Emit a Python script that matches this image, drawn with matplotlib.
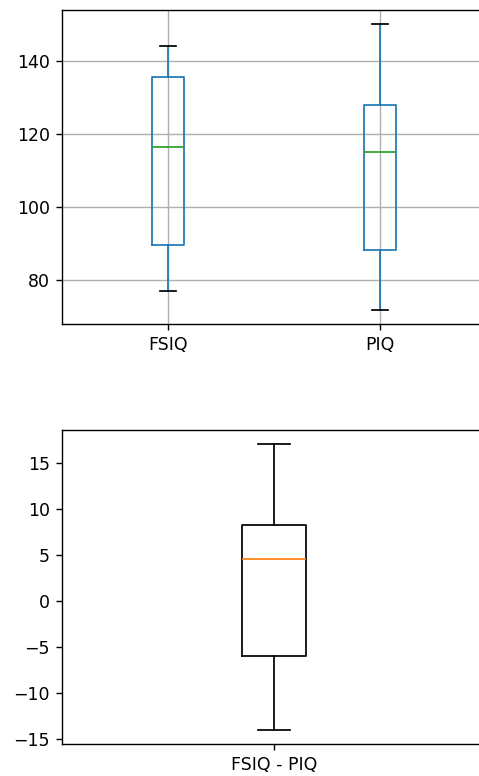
import pandas as pd
import matplotlib
matplotlib.use('Agg')
import matplotlib.pyplot as plt
from matplotlib.ticker import MultipleLocator

# brain size data: FSIQ and PIQ for the 40 subjects
fsiq = [133, 140, 139, 133, 137, 99, 138, 92, 89, 133,
        132, 141, 135, 140, 96, 83, 132, 100, 101, 80,
        83, 97, 135, 139, 91, 141, 85, 103, 77, 130,
        133, 144, 103, 90, 83, 133, 140, 88, 81, 89]
piq = [124, 124, 150, 128, 134, 110, 131, 98, 84, 147,
       124, 128, 124, 147, 90, 96, 120, 102, 84, 86,
       86, 84, 134, 128, 102, 131, 84, 110, 72, 124,
       132, 137, 110, 86, 81, 128, 124, 94, 74, 89]
diff_label = 'FSIQ - PIQ'

data = pd.DataFrame({'FSIQ': fsiq, 'PIQ': piq})

# the picture looks like a 1.25x render, so draw at 125 dpi
fig = plt.figure(figsize=(479 / 125, 776 / 125), dpi=125)

ax1 = fig.add_axes([0.1294, 0.5825, 0.885, 0.4046])
data.boxplot(column=['FSIQ', 'PIQ'], ax=ax1)
ax1.yaxis.set_major_locator(MultipleLocator(20))

ax2 = fig.add_axes([0.1294, 0.0412, 0.885, 0.4046])
ax2.boxplot(data['FSIQ'] - data['PIQ'])
ax2.set_xticks([1])
ax2.set_xticklabels([diff_label])

fig.savefig('out.png', dpi=125)
